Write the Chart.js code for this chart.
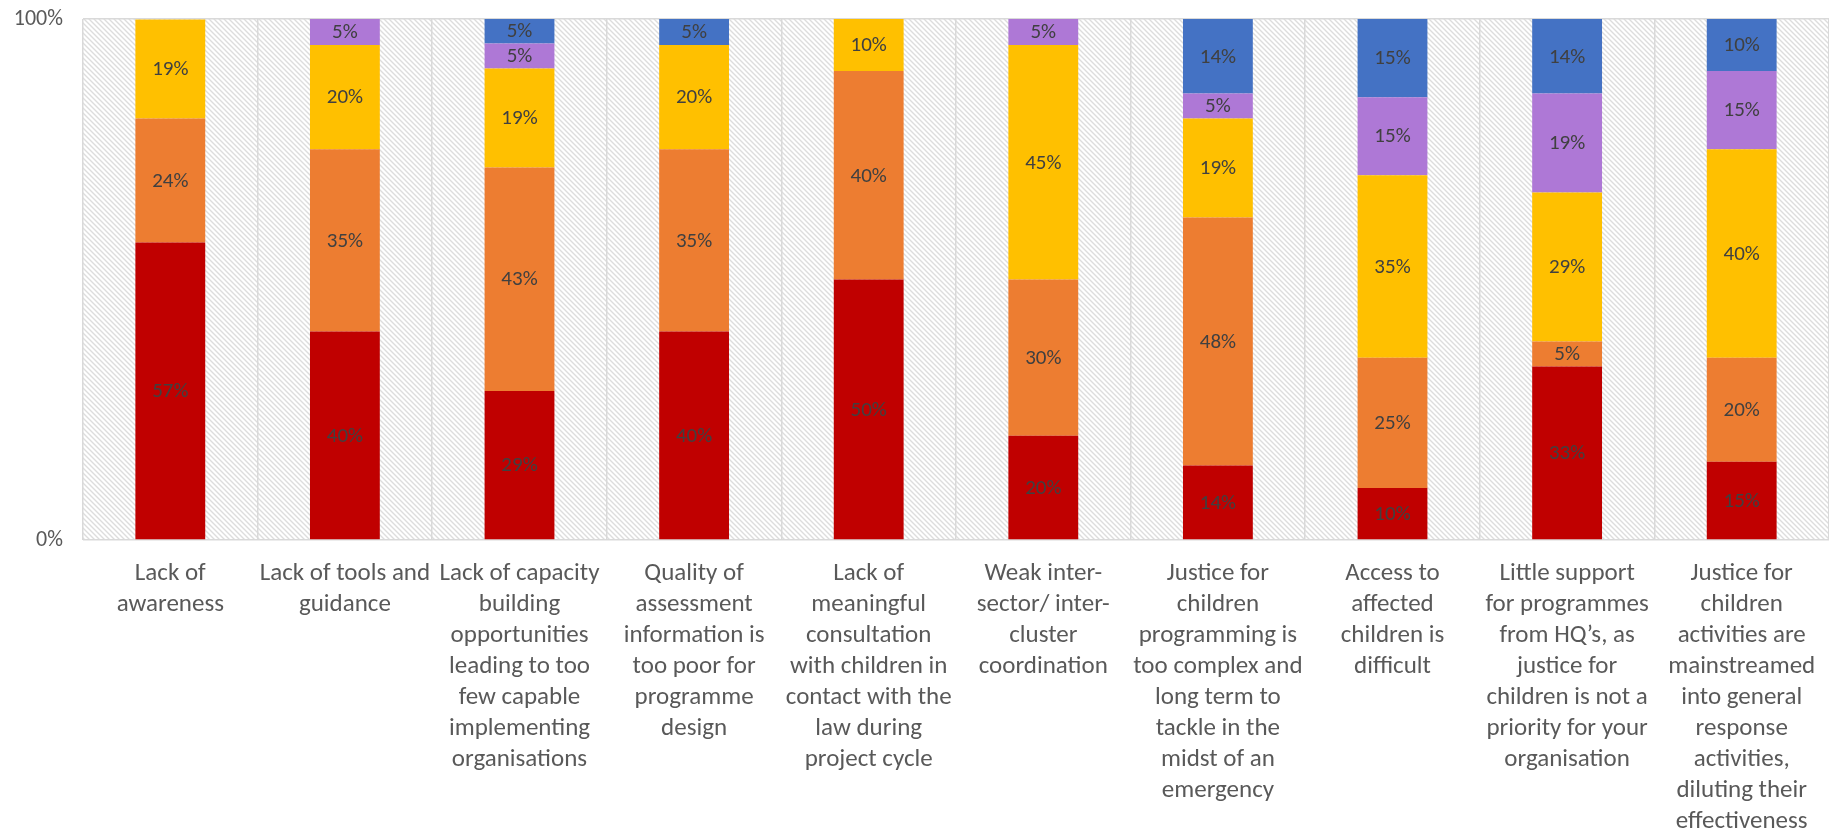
<!DOCTYPE html>
<html>
<head>
<meta charset="utf-8">
<script src="https://cdn.jsdelivr.net/npm/chart.js@4.4.1/dist/chart.umd.min.js"></script>
<style>
html,body{margin:0;padding:0;background:#ffffff;}
#wrap{width:1829px;height:833px;position:relative;}
</style>
</head>
<body>
<div id="wrap"><canvas id="c"></canvas></div>
<script>
const categories = [
  ["Lack of", "awareness"],
  ["Lack of tools and", "guidance"],
  ["Lack of capacity", "building", "opportunities", "leading to too", "few capable", "implementing", "organisations"],
  ["Quality of", "assessment", "information is", "too poor for", "programme", "design"],
  ["Lack of", "meaningful", "consultation", "with children in", "contact with the", "law during", "project cycle"],
  ["Weak inter-", "sector/ inter-", "cluster", "coordination"],
  ["Justice for", "children", "programming is", "too complex and", "long term to", "tackle in the", "midst of an", "emergency"],
  ["Access to", "affected", "children is", "difficult"],
  ["Little support", "for programmes", "from HQ\u2019s, as", "justice for", "children is not a", "priority for your", "organisation"],
  ["Justice for", "children", "activities are", "mainstreamed", "into general", "response", "activities,", "diluting their", "effectiveness"]
];

const seriesNames = ["Rank 1", "Rank 2", "Rank 3", "Rank 4", "Rank 5"];

const rank1 = [57.1, 40, 28.6, 40, 50, 20, 14.3, 10, 33.3, 15];
const rank2 = [23.8, 35, 42.9, 35, 40, 30, 47.6, 25, 4.8, 20];
const rank3 = [19.0, 20, 19.0, 20, 10, 45, 19.0, 35, 28.6, 40];
const rank4 = [0, 5, 4.8, 0, 0, 5, 4.8, 15, 19.0, 15];
const rank5 = [0, 0, 4.8, 5, 0, 0, 14.3, 15, 14.3, 10];

const yTicks = [0, 100];

const seriesColors = ["#C00000", "#ED7D31", "#FFC000", "#AE78D6", "#4472C4"];
const FONT = "Carlito, Lato, 'Liberation Sans', sans-serif";

function makeHatch() {
  const s = 5;
  const p = document.createElement('canvas');
  p.width = s; p.height = s;
  const g = p.getContext('2d');
  g.fillStyle = '#ffffff';
  g.fillRect(0, 0, s, s);
  g.strokeStyle = '#dddddd';
  g.lineWidth = 1.4;
  g.beginPath();
  g.moveTo(-1, -1); g.lineTo(s + 1, s + 1);
  g.moveTo(-1 - s, -1); g.lineTo(1, s + 1);
  g.moveTo(s - 1, -1); g.lineTo(2 * s + 1, s + 1);
  g.stroke();
  return p;
}

const hatchPlugin = {
  id: 'hatchBg',
  beforeDraw(chart) {
    const a = chart.chartArea;
    const ctx = chart.ctx;
    ctx.save();
    ctx.fillStyle = ctx.createPattern(makeHatch(), 'repeat');
    ctx.fillRect(a.left, a.top, a.right - a.left, a.bottom - a.top);
    ctx.restore();
  }
};

const labelPlugin = {
  id: 'segLabels',
  afterDatasetsDraw(chart) {
    const ctx = chart.ctx;
    ctx.save();
    ctx.font = "21px " + FONT;
    ctx.fillStyle = '#404040';
    ctx.textAlign = 'center';
    ctx.textBaseline = 'middle';
    chart.data.datasets.forEach((ds, i) => {
      const meta = chart.getDatasetMeta(i);
      meta.data.forEach((el, j) => {
        const v = ds.data[j];
        if (!v) return;
        const pr = el.getProps(['x', 'y', 'base'], true);
        ctx.fillText(Math.round(v) + '%', pr.x, (pr.y + pr.base) / 2 + 1);
      });
    });
    ctx.restore();
  }
};

const seriesData = [rank1, rank2, rank3, rank4, rank5];

new Chart(document.getElementById('c'), {
  type: 'bar',
  data: {
    labels: categories,
    datasets: seriesData.map((d, i) => ({
      label: seriesNames[i],
      data: d,
      backgroundColor: seriesColors[i],
      borderWidth: 0,
      categoryPercentage: 1.0,
      barPercentage: 0.4
    }))
  },
  options: {
    responsive: true,
    maintainAspectRatio: false,
    animation: false,
    devicePixelRatio: 1,
    layout: { padding: { top: 19, right: 0, left: 0, bottom: 0 } },
    plugins: {
      legend: { display: false },
      tooltip: { enabled: false }
    },
    scales: {
      x: {
        stacked: true,
        grid: { offset: true, color: '#d9d9d9', lineWidth: 1.5, drawTicks: false },
        border: { display: false },
        ticks: {
          color: '#595959',
          font: { family: FONT, size: 25, lineHeight: 1.24 },
          maxRotation: 0,
          minRotation: 0,
          autoSkip: false,
          padding: 18
        },
        afterFit(scale) { scale.height = 293; scale.paddingLeft = 0; scale.paddingRight = 0; }
      },
      y: {
        stacked: true,
        min: 0,
        max: 100,
        afterBuildTicks(scale) { scale.ticks = yTicks.map(v => ({ value: v })); },
        grid: { color: '#d9d9d9', lineWidth: 1.5, drawTicks: false },
        border: { display: false },
        ticks: {
          color: '#595959',
          font: { family: FONT, size: 22 },
          padding: 20,
          callback: v => v + '%'
        },
        afterFit(scale) { scale.width = 83; scale.paddingTop = 0; scale.paddingBottom = 0; }
      }
    }
  },
  plugins: [hatchPlugin, labelPlugin]
});
</script>
</body>
</html>
